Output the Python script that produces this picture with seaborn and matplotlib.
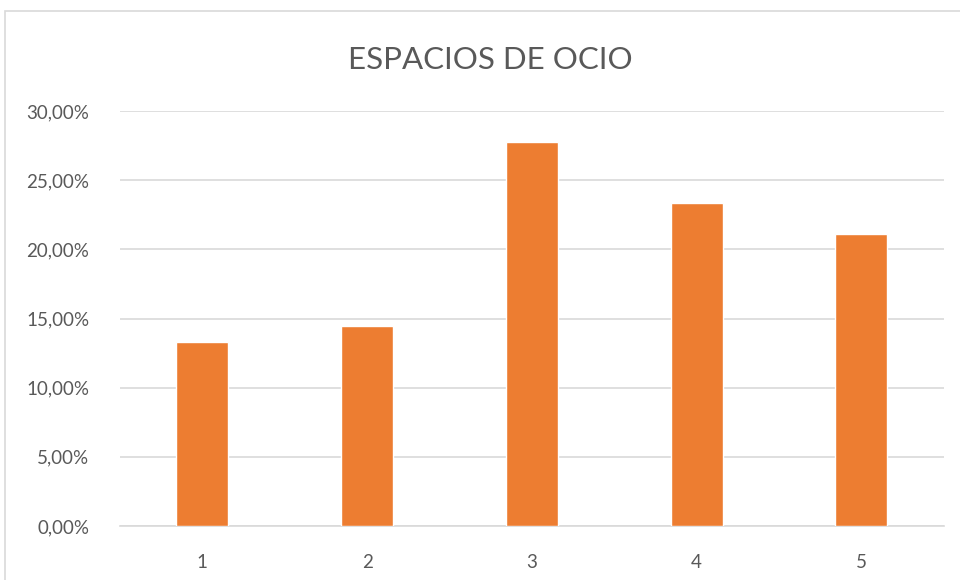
import matplotlib
matplotlib.use("Agg")
import matplotlib.pyplot as plt
from matplotlib.patches import Rectangle
from matplotlib.ticker import FuncFormatter
import seaborn as sns
import pandas as pd

categories = ["1", "2", "3", "4", "5"]
values = [13.33, 14.44, 27.78, 23.33, 21.11]
title = "ESPACIOS DE OCIO"

sns.set_theme(style="white")
plt.rcParams["font.family"] = ["Lato", "DejaVu Sans"]

df = pd.DataFrame({"cat": categories, "val": values})

fig = plt.figure(figsize=(9.6, 5.8), dpi=100)
ax = fig.add_axes([0.125, 0.0931, 0.858, 0.7155])

sns.barplot(data=df, x="cat", y="val", color="#ED7D31", width=0.315,
            saturation=1, ax=ax, zorder=3)

ax.set_ylim(0, 30)
ax.set_xlim(-0.5, 4.5)
ax.set_yticks([0, 5, 10, 15, 20, 25, 30])
ax.yaxis.set_major_formatter(FuncFormatter(lambda v, p: f"{v:.2f}".replace(".", ",") + "%"))
ax.grid(axis="y", color="#d9d9d9", linewidth=1.2, zorder=0)
ax.set_axisbelow(True)
for s in ["top", "right", "left"]:
    ax.spines[s].set_visible(False)
ax.spines["bottom"].set_color("#d9d9d9")
ax.spines["bottom"].set_linewidth(1.2)
ax.set_xlabel("")
ax.set_ylabel("")
ax.tick_params(axis="both", length=0, labelsize=13.5, colors="#595959")
ax.tick_params(axis="y", pad=22)
ax.tick_params(axis="x", pad=20)

fig.text(0.511, 0.897, title, ha="center", va="center", fontsize=22.5, color="#595959")

# chart frame
fig.patches.append(Rectangle((5 / 960, -0.05), 1.2, 1 - 11 / 580 + 0.05,
                             transform=fig.transFigure, fill=False,
                             edgecolor="#d9d9d9", linewidth=1.2))

fig.savefig("out.png", dpi=100)
